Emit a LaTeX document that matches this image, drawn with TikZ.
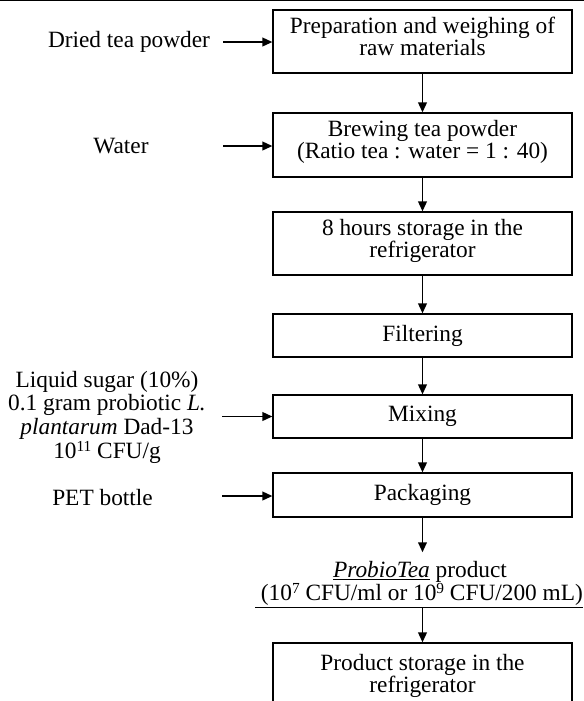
\documentclass[tikz,border=0pt]{standalone}
\usepackage{fontspec}
\setmainfont{Liberation Serif}
\usetikzlibrary{arrows.meta}
\newcommand{\dpt}{\rule[-8.15pt]{0pt}{0pt}}
\newcommand{\sups}[1]{\raisebox{0.3em}{\fontsize{11.5pt}{11.5pt}\selectfont #1}}
\begin{document}
\begin{tikzpicture}[x=0.75pt,y=-0.75pt,
  every node/.style={font=\fontsize{17.5pt}{16.5pt}\selectfont, inner sep=0pt},
  stepbox/.style={draw, line width=0.9pt, minimum width=224.25pt, align=center},
  lbl/.style={align=center},
  arr/.style={line width=1.3pt, -{Triangle[length=7.5pt,width=6.5pt]}}]
\useasboundingbox (0,0) rectangle (584,701);
\fill[white] (0,0) rectangle (584,701);
\clip (0,0) rectangle (584,701);
\draw[line width=1.1pt] (0,0.75) -- (584,0.75);

% process boxes
\node[stepbox, minimum height=47.25pt] (b1) at (422.5,41.5) {Preparation and weighing of\\raw materials\dpt};
\node[stepbox, minimum height=48pt] (b2) at (422.5,145) {Brewing tea powder\\(Ratio tea : water = 1 : 40)\dpt};
\node[stepbox, minimum height=47.25pt] (b3) at (422.5,243.5) {8 hours storage in the\\refrigerator\dpt};
\node[stepbox, minimum height=32.25pt] (b4) at (422.5,335.5) {Filtering};
\node[stepbox, minimum height=32.25pt] (b5) at (422.5,416.5) {Mixing};
\node[stepbox, minimum height=33pt] (b6) at (422.5,495) {Packaging};
\node[anchor=base, inner ysep=6.2pt] (p1) at (420,577) {\underline{\textit{ProbioTea}} product};
\node[anchor=base] (p2) at (419,600) {\underline{\ (10\sups{7} CFU/ml or 10\sups{9} CFU/200 mL)}};
\node[stepbox, minimum height=54pt] (b7) at (422.5,679) {Product storage in the\\refrigerator\dpt};

% inputs
\node[anchor=base] (dry) at (129,47) {Dried tea powder};
\node[anchor=base] (water) at (121,153) {Water};
\node[lbl, font=\fontsize{17.5pt}{17.75pt}\selectfont] (mixin) at (107,417) {Liquid sugar (10\%)\\0.1 gram probiotic \textit{L.}\\\textit{plantarum} Dad-13\\10\sups{11} CFU/g};
\node[anchor=base] (pet) at (102.5,505) {PET bottle};

\coordinate (a1) at (223,42);
\coordinate (a2) at (223,146);
\coordinate (a3) at (222,416.5);
\coordinate (a4) at (222,496);

\draw[arr] (a1) -- (a1 -| b1.west);
\draw[arr] (a2) -- (a2 -| b2.west);
\draw[arr] (a3) -- (a3 -| b5.west);
\draw[arr] (a4) -- (a4 -| b6.west);

\draw[arr] (b1) -- (b2);
\draw[arr] (b2) -- (b3);
\draw[arr] (b3) -- (b4);
\draw[arr] (b4) -- (b5);
\draw[arr] (b5) -- (b6);
\draw[arr] (b6) -- (b6.south |- p1.north);
\draw[arr] (p2.south -| b7.north) -- (b7);
\end{tikzpicture}
\end{document}
